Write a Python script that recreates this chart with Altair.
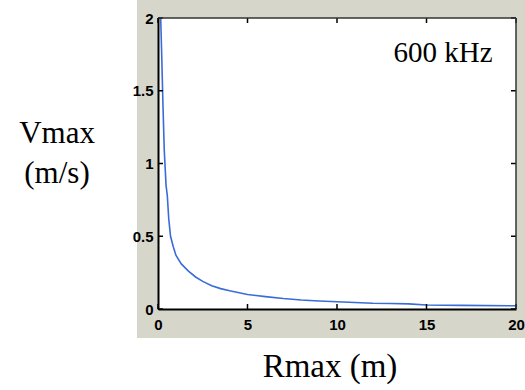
import altair as alt
import pandas as pd

# Data
R = [0.15, 0.2, 0.28, 0.35, 0.45, 0.52, 0.6, 0.7, 0.85, 1.0, 1.3, 1.7, 2.1, 2.5,
     3.0, 3.5, 4.0, 5.0, 6.0, 7.0, 8.0, 9.0, 10.0, 11.0, 12.0, 13.0, 14.0, 15.0, 17.0, 20.0]
V = [2.0, 1.78, 1.39, 1.09, 0.85, 0.78, 0.62, 0.5, 0.43, 0.37, 0.31, 0.26, 0.22, 0.19,
     0.16, 0.14, 0.125, 0.1, 0.085, 0.072, 0.062, 0.055, 0.05, 0.045, 0.04, 0.038, 0.035,
     0.028, 0.025, 0.022]
x_ticks = [0, 5, 10, 15, 20]
y_ticks = [0, 0.5, 1, 1.5, 2]
x_title = "Rmax (m)"
y_title = ["Vmax", "(m/s)"]
annotation = "600 kHz"

W, H = 358, 291
df = pd.DataFrame({"R": R, "V": V})
xt = pd.DataFrame({"t": x_ticks})
yt = pd.DataFrame({"t": y_ticks})
one = alt.Data(values=[{"a": 1}])

xs = alt.Scale(domain=[0, 20], nice=False, zero=False)
ys = alt.Scale(domain=[0, 2], nice=False, zero=False)

lab = dict(labelFont="Liberation Sans", labelFontWeight="bold", labelFontSize=15,
           labelColor="black", tickSize=0, grid=False, title=None, zindex=1,
           domainColor="black", domainWidth=2, format="~g", labelFlush=False)
ax_x = alt.Axis(values=x_ticks, labelPadding=8, **lab)
ax_y = alt.Axis(values=y_ticks, labelPadding=5, **lab)

panel = alt.Chart(one).mark_rect(color="#d6d6cb").encode(
    x=alt.value(-21), x2=alt.value(367), y=alt.value(-18), y2=alt.value(320))
plotbg = alt.Chart(one).mark_rect(color="white").encode(
    x=alt.value(0), x2=alt.value(W), y=alt.value(0), y2=alt.value(H))

line = alt.Chart(df).mark_line(color="#3a6cd8", strokeWidth=1.6).encode(
    x=alt.X("R:Q", scale=xs, axis=ax_x),
    y=alt.Y("V:Q", scale=ys, axis=ax_y),
)

rule = dict(color="black", strokeWidth=1.5)
tick_b = alt.Chart(xt).mark_rule(**rule).encode(
    x=alt.X("t:Q", scale=xs, axis=ax_x), y=alt.value(H), y2=alt.value(H - 5))
tick_t = alt.Chart(xt).mark_rule(**rule).encode(
    x=alt.X("t:Q", scale=xs, axis=ax_x), y=alt.value(0), y2=alt.value(5))
tick_l = alt.Chart(yt).mark_rule(**rule).encode(
    y=alt.Y("t:Q", scale=ys, axis=ax_y), x=alt.value(0), x2=alt.value(5))
tick_r = alt.Chart(yt).mark_rule(**rule).encode(
    y=alt.Y("t:Q", scale=ys, axis=ax_y), x=alt.value(W), x2=alt.value(W - 5))

edge = dict(color="#333333", strokeWidth=1.5)
top_edge = alt.Chart(one).mark_rule(**edge).encode(
    x=alt.value(0), x2=alt.value(W), y=alt.value(0), y2=alt.value(0))
right_edge = alt.Chart(one).mark_rule(**edge).encode(
    x=alt.value(W), x2=alt.value(W), y=alt.value(0), y2=alt.value(H))

txt = dict(font="Liberation Serif", fontSize=31, color="black", align="center", baseline="alphabetic")
t1 = alt.Chart(one).mark_text(**txt).encode(x=alt.value(-101), y=alt.value(125), text=alt.value(y_title[0]))
t2 = alt.Chart(one).mark_text(**txt).encode(x=alt.value(-101), y=alt.value(165), text=alt.value(y_title[1]))
t3 = alt.Chart(one).mark_text(**dict(txt, fontSize=33)).encode(x=alt.value(172), y=alt.value(359), text=alt.value(x_title))
t4 = alt.Chart(one).mark_text(**dict(txt, fontSize=29)).encode(x=alt.value(285), y=alt.value(44), text=alt.value(annotation))

chart = alt.layer(panel, plotbg, line, tick_b, tick_t, tick_l, tick_r, top_edge, right_edge,
                  t1, t2, t3, t4).properties(
    width=W, height=H,
    autosize=alt.AutoSizeParams(type="none"),
    padding={"left": 158, "top": 18, "right": 9, "bottom": 81},
    background="white",
).configure_view(stroke=None)

chart.save("out.html", embed_options={"renderer": "svg", "actions": False})
